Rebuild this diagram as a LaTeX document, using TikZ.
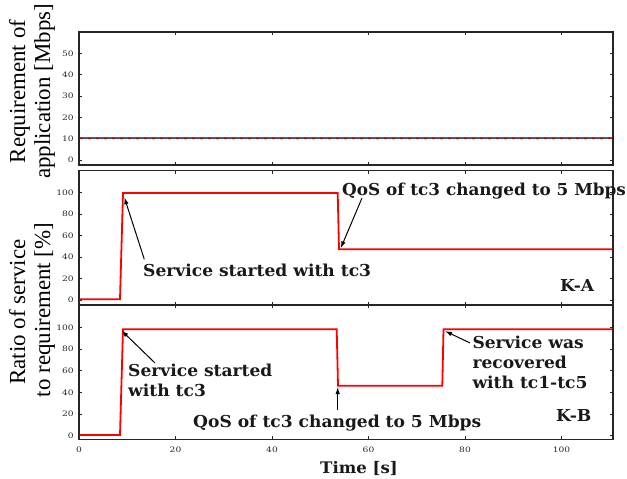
\documentclass[tikz,border=0pt]{standalone}
\usepackage{fontspec}
\newfontfamily\timesf{Liberation Serif}
\newfontfamily\dvs{DejaVu Serif}
\usetikzlibrary{arrows.meta}
\newcommand\schfont[2]{\dvs\fontsize{#1}{#2}\selectfont}
\definecolor{dteal}{RGB}{40,110,110}
\tikzset{
  frame/.style={line width=1.4bp, black!85},
  tickmark/.style={line width=0.9bp, black!85},
  ticklab/.style={font=\schfont{7.5}{9}, xscale=1.22, transform shape, inner sep=0pt, text=black!85},
  ann/.style={font=\schfont{16.5}{20}\bfseries, xscale=1.04, transform shape, inner sep=0pt, align=left, text=black!90},
  axlab/.style={font=\timesf\fontsize{23}{25}\selectfont, rotate=90, inner sep=0pt, anchor=base},
  dataline/.style={red, line width=1.8bp, line join=miter},
  pointer/.style={-{Latex[length=7bp,width=4.5bp]}, line width=1bp, black},
}
\begin{document}
\begin{tikzpicture}[x=1bp,y=-1bp]
\useasboundingbox (0,0) rectangle (627,479);

% ---------- panel frames ----------
\draw[frame] (79,32) rectangle (613,165);
\draw[frame] (79,170.7) rectangle (613,305);
\draw[frame] (79,305) rectangle (613,439.3);

% x ticks on all panels
\foreach \x in {175.5,272,368.5,465,561.5}{
  \draw[tickmark] (\x,32) -- ++(0,3);
  \draw[tickmark] (\x,165) -- ++(0,-3);
  \draw[tickmark] (\x,170.7) -- ++(0,3);
  \draw[tickmark] (\x,305) -- ++(0,-3);
  \draw[tickmark] (\x,305) -- ++(0,3);
  \draw[tickmark] (\x,439.3) -- ++(0,-3);
}
% panel 1 y ticks
\foreach \v/\y in {0/160,10/138.7,20/117.4,30/96.1,40/74.8,50/53.5}{
  \draw[tickmark] (79,\y) -- ++(3,0);
  \draw[tickmark] (613,\y) -- ++(-3,0);
  \node[ticklab, anchor=east] (ya\v) at (74,\y) {\v};
}
% panel 2 y ticks
\foreach \v/\y in {0/300,20/278.5,40/257.1,60/235.6,80/214.2,100/192.7}{
  \draw[tickmark] (79,\y) -- ++(3,0);
  \draw[tickmark] (613,\y) -- ++(-3,0);
  \node[ticklab, anchor=east] (yb\v) at (74,\y) {\v};
}
% panel 3 y ticks
\foreach \v/\y in {0/435.7,20/414,40/392.4,60/370.7,80/349,100/327.4}{
  \draw[tickmark] (79,\y) -- ++(3,0);
  \draw[tickmark] (613,\y) -- ++(-3,0);
  \node[ticklab, anchor=east] (yc\v) at (74,\y) {\v};
}
% x tick labels
\foreach \t/\x in {0/79,20/175.5,40/272,60/368.5,80/465,100/561.5}{
  \node[ticklab] (xl\t) at (\x,450) {\t};
}

% ---------- data ----------
\draw[dteal, line width=1.3bp] (79.7,138) -- (612.3,138);
\draw[red!70!black, line width=0.6bp, dash pattern=on 3bp off 5bp] (79.7,138) -- (612.3,138);

\begin{scope}
\clip (79.7,171.4) rectangle (612.3,304.3);
\draw[dataline] (79,299.3) -- (120,299.3) -- (123,193) -- (337.7,193) -- (339,249.3) -- (614,249.3);
\end{scope}
\begin{scope}
\clip (79.7,305.7) rectangle (612.3,438.6);
\draw[dataline] (79,435) -- (120,435) -- (123,329.3) -- (336.7,329.3) -- (338,385.7) -- (442.3,385.7) -- (443.5,329.3) -- (614,329.3);
\end{scope}

% ---------- axis labels ----------
\node[axlab] (lab1a) at (25,91.5) {Requirement of};
\node[axlab] (lab1b) at (50,91.5) {application [Mbps]};
\node[axlab] (lab2a) at (25,312) {Ratio of service};
\node[axlab] (lab2b) at (50,310) {to requirement [\%]};
\node[ann, anchor=base west, font=\schfont{16}{19}\bfseries] (tlab) at (320,473) {Time [s]};

% ---------- annotations ----------
\node[ann, anchor=base west] (ka) at (560,291.7) {K-A};
\node[ann, anchor=base west] (kb) at (556,421.7) {K-B};

\node[ann, anchor=base west] (s1) at (143,276) {Service started with tc3};
\node[ann, anchor=base west, xscale=0.985] (q1) at (342,196) {QoS of tc3 changed to 5 Mbps};
\node[ann, anchor=north west] (s2) at (128,364) {Service started\\with tc3};
\node[ann, anchor=base west] (q2) at (193,427) {QoS of tc3 changed to 5 Mbps};
\node[ann, anchor=north west] (r2) at (472.3,336) {Service was\\recovered\\with tc1-tc5};

\coordinate (s1tail) at (144.3,259.3);
\coordinate (s1tip) at (124.3,197.3);
\coordinate (q1tail) at (362,198);
\coordinate (q1tip) at (340.7,248.3);
\coordinate (s2tail) at (155,363);
\coordinate (s2tip) at (121.5,330.5);
\coordinate (q2tail) at (337.7,410);
\coordinate (q2tip) at (337.7,387);
\coordinate (r2tail) at (470,343);
\coordinate (r2tip) at (445,331);

\draw[pointer] (s1tail) -- (s1tip);
\draw[pointer] (q1tail) -- (q1tip);
\draw[pointer] (s2tail) -- (s2tip);
\draw[pointer] (q2tail) -- (q2tip);
\draw[pointer] (r2tail) -- (r2tip);
\end{tikzpicture}
\end{document}
